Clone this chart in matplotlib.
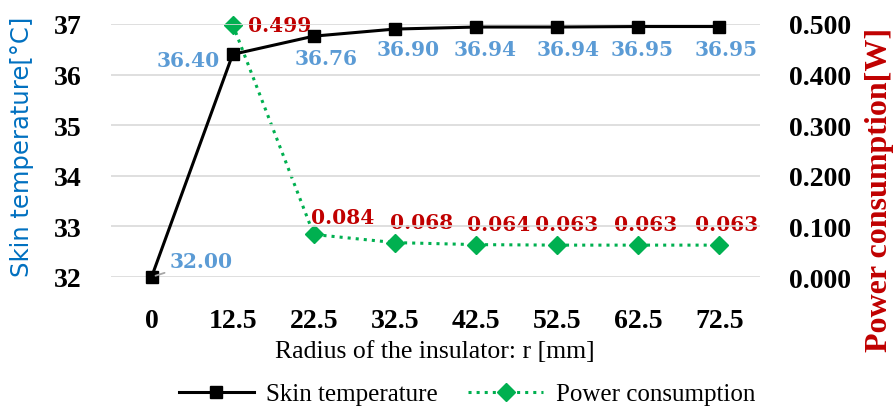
import matplotlib
matplotlib.use('Agg')
import matplotlib.pyplot as plt
import numpy as np

# data
radius = ['0', '12.5', '22.5', '32.5', '42.5', '52.5', '62.5', '72.5']
skin_temp = [32.00, 36.40, 36.76, 36.90, 36.94, 36.94, 36.95, 36.95]
power = [np.nan, 0.499, 0.084, 0.068, 0.064, 0.063, 0.063, 0.063]

# label offsets in pixels (layout only)
temp_offsets = [(50, 16), (-44, -6), (12, -22), (13, -20), (9, -22), (11, -22), (4, -22), (7, -22)]
power_offsets = [None, (47, 0), (29, 17), (27, 21), (23, 21), (9, 21), (7, 21), (7, 21)]

SERIF = 'Liberation Serif'
BLUE_LBL = '#5B9BD5'
RED = '#C00000'
GREEN = '#00B050'

plt.rcParams['font.family'] = [SERIF, 'DejaVu Sans']
plt.rcParams['xtick.major.pad'] = 22
plt.rcParams['ytick.major.pad'] = 21
plt.rcParams['xtick.major.size'] = 0
plt.rcParams['ytick.major.size'] = 0
plt.rcParams['xtick.labelsize'] = 20
plt.rcParams['ytick.labelsize'] = 20


def main():
    fig = plt.figure(figsize=(8.93, 4.10), dpi=100)
    ax = fig.add_axes([111 / 893, 1 - 278 / 410, (760 - 111) / 893, (278 - 25) / 410])
    ax2 = ax.twinx()

    x = np.arange(len(radius))

    # gridlines from the left axis
    ax.set_ylim(32, 37)
    ax.set_yticks([32, 33, 34, 35, 36, 37])
    ax.yaxis.grid(True, color='#D9D9D9', lw=1.2)
    ax.set_axisbelow(True)
    ax.set_xlim(-0.5, len(radius) - 0.5)
    ax.set_xticks(x)
    ax.set_xticklabels(radius)

    ax2.set_ylim(0, 0.5)
    ax2.set_yticks([0, 0.1, 0.2, 0.3, 0.4, 0.5])
    ax2.set_yticklabels([f'{v:.3f}' for v in ax2.get_yticks()])

    for a in (ax, ax2):
        for s in a.spines.values():
            s.set_visible(False)
    for lbl in ax.get_xticklabels() + ax.get_yticklabels() + ax2.get_yticklabels():
        lbl.set_fontweight('bold')

    # power consumption on right axis (drawn under temperature)
    ax2.plot(x, power, color=GREEN, ls=':', lw=2.2, marker='D', ms=9,
             label='Power consumption', clip_on=False, zorder=3)
    ax.set_zorder(ax2.get_zorder() + 1)
    ax.patch.set_visible(False)
    ax.plot(x, skin_temp, color='black', lw=2.2, marker='s', ms=9,
            label='Skin temperature', clip_on=False, zorder=3)

    # data labels
    for i, (v, off) in enumerate(zip(skin_temp, temp_offsets)):
        arrow = None
        if i == 0:
            arrow = dict(arrowstyle='-', color='#A6A6A6', lw=1.3, shrinkA=2, shrinkB=3)
        ax.annotate(f'{v:.2f}', (x[i], v), xytext=off, textcoords='offset pixels',
                    ha='center', va='center', color=BLUE_LBL, fontsize=14.5,
                    fontweight='bold', family='DejaVu Serif', arrowprops=arrow,
                    annotation_clip=False)
    for i, (v, off) in enumerate(zip(power, power_offsets)):
        if off is None:
            continue
        arrow = None
        if i == 1:
            arrow = dict(arrowstyle='-', color='#A6A6A6', lw=1.3, shrinkA=3, shrinkB=6)
        ax2.annotate(f'{v:.3f}', (x[i], v), xytext=off, textcoords='offset pixels',
                     ha='center', va='center', color=RED, fontsize=14.5,
                     fontweight='bold', family='DejaVu Serif', arrowprops=arrow,
                     annotation_clip=False)

    # axis titles
    fig.text(22 / 893, 1 - 147 / 410, 'Skin temperature[°C]', rotation=90,
             ha='center', va='center', color='#0070C0', fontsize=17.5, family='DejaVu Sans')
    fig.text(880 / 893, 1 - 190 / 410, 'Power consumption[W]', rotation=90,
             ha='center', va='center', color=RED, fontsize=23, fontweight='bold')
    fig.text(435 / 893, 1 - 352 / 410, 'Radius of the insulator: r [mm]',
             ha='center', va='center', fontsize=18.5)

    h1, l1 = ax.get_legend_handles_labels()
    h2, l2 = ax2.get_legend_handles_labels()
    fig.legend(h1 + h2, l1 + l2, loc='center', bbox_to_anchor=(467 / 893, 1 - 395 / 410),
               ncol=2, frameon=False, prop={'size': 18},
               handlelength=3, columnspacing=1.2, handletextpad=0.5)

    fig.savefig('out.png', dpi=100)


if __name__ == '__main__':
    main()
